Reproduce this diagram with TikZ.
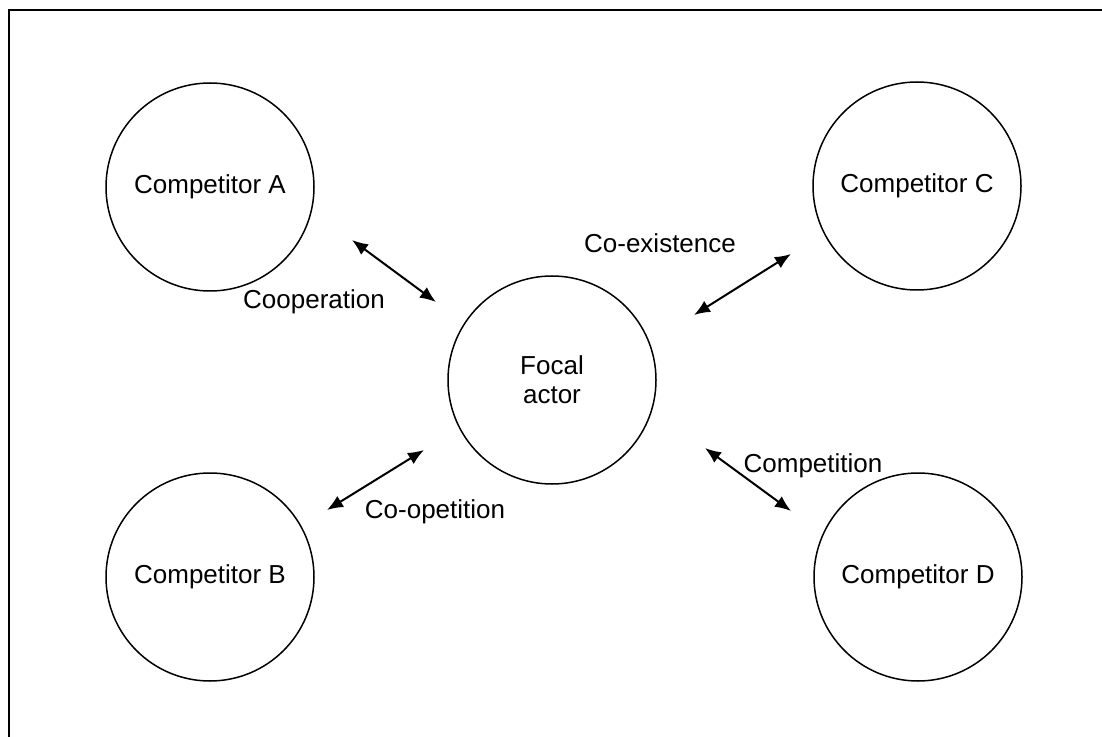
\documentclass[tikz,border=0pt]{standalone}
\usepackage{fontspec}
\setmainfont{Liberation Sans}
\usetikzlibrary{arrows.meta}
\tikzset{
  actor/.style={draw, circle, line width=0.75pt, minimum size=104pt, inner sep=0pt, align=center},
  link/.style={line width=1pt, {Latex[length=8pt,width=6.5pt]}-{Latex[length=8pt,width=6.5pt]}},
}
\begin{document}
\begin{tikzpicture}[x=0.5pt, y=-0.5pt, font=\fontsize{13}{14.5}\selectfont]
  \useasboundingbox (0,0) rectangle (1102,737);
  \draw[line width=1pt] (1102,10) -- (9,10) -- (9,737);

  \node[actor] (focal) at (552,380) {Focal\\actor};
  \node[actor] (compA) at (210,187) {Competitor A};
  \node[actor] (compB) at (210,577) {Competitor B};
  \node[actor] (compC) at (917,186) {Competitor C};
  \node[actor] (compD) at (918,577) {Competitor D};

  \coordinate (a1) at (352,240);
  \coordinate (a2) at (436,302);
  \coordinate (b1) at (327,510);
  \coordinate (b2) at (424,450);
  \coordinate (c1) at (694,315);
  \coordinate (c2) at (791,254);
  \coordinate (d1) at (705,448);
  \coordinate (d2) at (791,511);

  \draw[link] (a1) -- (a2);
  \draw[link] (b1) -- (b2);
  \draw[link] (c1) -- (c2);
  \draw[link] (d1) -- (d2);

  \node (coop) at (314,302) {Cooperation};
  \node (coopet) at (435,512) {Co-opetition};
  \node (coexist) at (660,243) {Co-existence};
  \node (compet) at (813,466) {Competition};
\end{tikzpicture}
\end{document}
